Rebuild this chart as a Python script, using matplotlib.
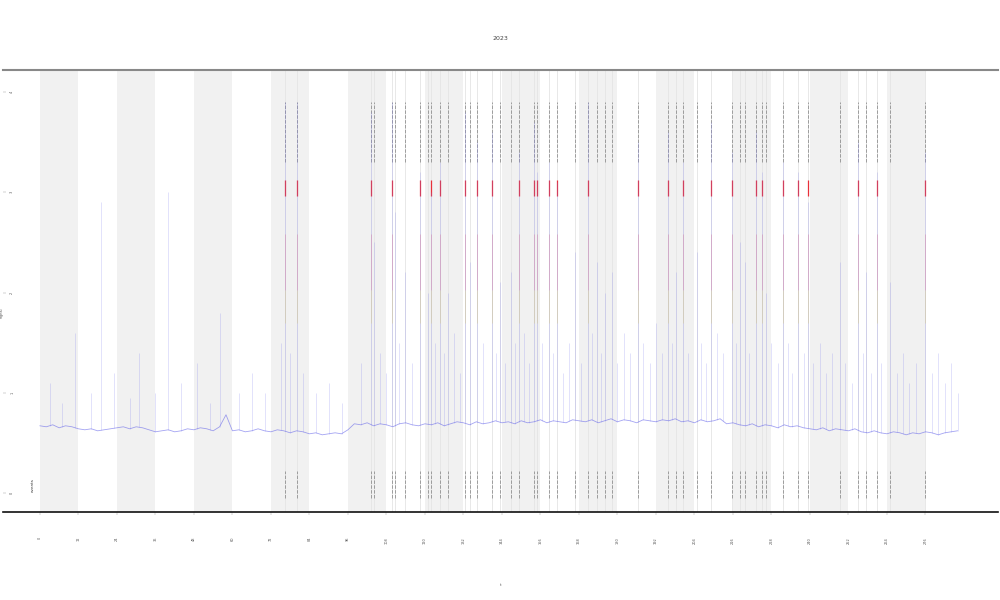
#!/usr/bin/env python

import matplotlib
matplotlib.use('Agg')
import matplotlib.pyplot as plt
import numpy as np

# hours since start, sampled every 2 h (baseline level)
base_t = np.arange(0, 288, 2)
base_v = [
    0.67, 0.66, 0.68, 0.65, 0.67, 0.66, 0.64, 0.63, 0.64, 0.62, 0.63, 0.64,
    0.65, 0.66, 0.64, 0.66, 0.65, 0.63, 0.61, 0.62, 0.63, 0.61, 0.62, 0.64,
    0.63, 0.65, 0.64, 0.62, 0.66, 0.78, 0.62, 0.63, 0.61, 0.62, 0.64, 0.62,
    0.61, 0.63, 0.62, 0.60, 0.62, 0.61, 0.59, 0.60, 0.58, 0.59, 0.60, 0.59,
    0.63, 0.69, 0.68, 0.70, 0.67, 0.69, 0.68, 0.66, 0.69, 0.70, 0.68, 0.67,
    0.69, 0.68, 0.70, 0.67, 0.69, 0.71, 0.70, 0.68, 0.71, 0.69, 0.70, 0.72,
    0.70, 0.71, 0.69, 0.72, 0.70, 0.71, 0.73, 0.70, 0.72, 0.71, 0.70, 0.73,
    0.72, 0.71, 0.73, 0.70, 0.72, 0.74, 0.71, 0.73, 0.72, 0.70, 0.73, 0.72,
    0.71, 0.73, 0.72, 0.74, 0.71, 0.72, 0.70, 0.73, 0.71, 0.72, 0.74, 0.69,
    0.70, 0.68, 0.67, 0.69, 0.66, 0.68, 0.67, 0.65, 0.68, 0.66, 0.67, 0.65,
    0.64, 0.63, 0.65, 0.62, 0.64, 0.63, 0.62, 0.64, 0.61, 0.60, 0.62, 0.60,
    0.59, 0.61, 0.60, 0.58, 0.60, 0.59, 0.61, 0.60, 0.58, 0.60, 0.61, 0.62,
]

# spikes: time (h), peak value
spike_t = [3, 7, 11, 16, 19, 23, 28, 31, 36, 40, 44, 49, 53, 56, 62, 66, 70,
           75, 76.4, 78, 80.1, 82, 86, 90, 94,
           100, 103.2, 104.1, 106, 108, 109.7, 110.7, 112, 113.8, 116, 118.4,
           120.9, 121.9, 123, 124.7, 126, 127.2, 129, 131, 132.5, 134.0, 136.2,
           138, 140.9, 142, 143.4, 145, 146.8, 148, 149.3, 151, 152.5, 154.0,
           154.9, 156.5, 158.7, 160, 161.2, 163, 165, 166.8, 168.5, 170.8, 172,
           173.6, 175, 176.1, 178.3, 180, 182, 184, 186.4, 188, 190, 192, 194,
           195.8, 197, 198.2, 200.4, 202, 204.8, 206, 207.5, 209.2, 211, 213,
           215.7, 217, 218.2, 219.7, 221, 223.2, 225.1, 226.3, 228, 230, 231.6,
           233, 234.5, 236.3, 238, 239.4, 241, 243, 245, 247, 249.4, 251, 253,
           255.0, 256.5, 257.5, 259, 260.9, 262, 265.0, 267, 269, 271, 273,
           275.9, 278, 280, 282, 284, 286]
spike_v = [1.1, 0.9, 1.6, 1.0, 2.9, 1.2, 0.95, 1.4, 1.0, 3.0, 1.1, 1.3, 0.9, 1.8, 1.0, 1.2, 1.0,
           1.5, 3.9, 1.4, 3.9, 1.2, 1.0, 1.1, 0.9,
           1.3, 3.8, 2.5, 1.4, 1.2, 3.9, 2.8, 1.5, 2.2, 1.3, 3.2,
           2.0, 3.0, 1.5, 3.3, 1.4, 2.0, 1.6, 1.2, 3.8, 2.3, 3.5,
           1.5, 3.6, 1.4, 2.1, 1.3, 2.2, 1.5, 3.4, 1.6, 1.3, 3.7,
           3.2, 1.5, 3.3, 1.4, 3.1, 1.2, 1.5, 2.4, 1.3, 3.9, 1.6,
           2.3, 1.4, 2.0, 2.2, 1.3, 1.6, 1.4, 3.5, 1.5, 1.3, 1.7, 1.4,
           3.6, 1.5, 2.2, 3.3, 1.4, 2.4, 1.5, 1.3, 3.7, 1.6, 1.4,
           3.4, 1.5, 2.5, 2.3, 1.4, 3.6, 3.2, 2.0, 1.5, 1.3, 3.3,
           1.5, 1.2, 3.2, 1.4, 2.9, 1.3, 1.5, 1.2, 1.4, 2.3, 1.3, 1.1,
           3.5, 1.4, 2.2, 1.2, 3.2, 1.3, 2.1, 1.2, 1.4, 1.1, 1.3,
           3.4, 1.2, 1.4, 1.1, 1.3, 1.0]

# flagged events (red marks) and other events (gray only)
red_events = [76.4, 80.1, 103.2, 109.7, 118.4, 121.9, 124.7, 132.5, 136.2,
              140.9, 149.3, 154.0, 154.9, 158.7, 161.2, 170.8, 186.4, 195.8,
              200.4, 209.2, 215.7, 223.2, 225.1, 231.6, 236.3, 239.4, 255.0,
              260.9, 275.9]
gray_events = [104.1, 110.7, 113.8, 120.9, 127.2, 134.0, 143.4, 146.8, 166.8,
               173.6, 176.1, 178.3, 198.2, 204.8, 218.2, 219.7, 226.3, 249.4,
               257.5, 265.0]

dark_starts = [0, 24, 48, 72, 96, 120, 144, 168, 192, 216, 240, 264]
dark_len = 12
tick_hours = list(range(0, 277, 12))

fig = plt.figure(figsize=(10, 6), dpi=100)
ax = fig.add_axes([0.003, 0.1467, 0.995, 0.7366])

for s in dark_starts:
    ax.axvspan(s, s + dark_len, color='#f1f1f1', lw=0, zorder=0)

all_events = sorted(red_events + gray_events)
for t in all_events:
    ax.axvline(t, color='#e4e4e4', lw=0.6, zorder=1)

# event markers
ax.vlines(all_events, 3.3, 3.9, colors='#808080', lw=0.5, linestyles=(0, (5, 2)), zorder=3)
ax.vlines(all_events, -0.05, 0.22, colors='#808080', lw=0.5, linestyles=(0, (5, 2)), zorder=3)
ax.vlines(red_events, 2.96, 3.12, colors='#e8303a', lw=0.9, zorder=3)
ax.vlines(red_events, 2.02, 2.58, colors='#f07080', lw=0.6, alpha=0.45, zorder=3)
ax.vlines(red_events, 1.7, 2.02, colors='#f5e060', lw=0.6, alpha=0.45, zorder=3)

# signal
ax.plot(base_t, base_v, color='#5858e8', lw=0.6, alpha=0.55, zorder=4)
spike_base = np.interp(spike_t, base_t, base_v)
ax.vlines(spike_t, spike_base, spike_v, colors='#7878f0', lw=0.5, alpha=0.3, zorder=4)

ax.set_xlim(-11.5, 298.6)
ax.set_ylim(-0.19, 4.22)
ax.set_xticks(tick_hours)
ax.set_xticklabels([str(h) for h in tick_hours], rotation=90, fontsize=2.5, color='#555555')
ax.set_yticks([0, 1, 2, 3, 4])
ax.set_yticklabels(['0', '1', '2', '3', '4'], rotation=90, fontsize=2.5, color='#555555', va='center')
ax.tick_params(axis='x', length=2, width=0.3, color='#999999', pad=16)
ax.tick_params(axis='y', length=2, width=0.3, color='#999999', direction='in', pad=-8)

ax.spines['top'].set_color('#888888')
ax.spines['top'].set_linewidth(1.5)
ax.spines['bottom'].set_color('#111111')
ax.spines['bottom'].set_linewidth(1.2)
ax.spines['left'].set_visible(False)
ax.spines['right'].set_visible(False)

ax.set_xlabel('t', fontsize=3, color='#555555', labelpad=28)
ax.set_ylabel('signal', fontsize=2.5, color='#555555', labelpad=-3)
ax.yaxis.set_label_coords(0.0005, 0.45)
ax.text(-2.2, 0.08, 'events', rotation=90, fontsize=3, color='#333333',
        ha='center', va='center', zorder=5)
fig.text(0.5, 1 - 38 / 600, '2023', fontsize=4.5, color='#444444',
         ha='center', va='center')

fig.savefig('out.png', dpi=100)
